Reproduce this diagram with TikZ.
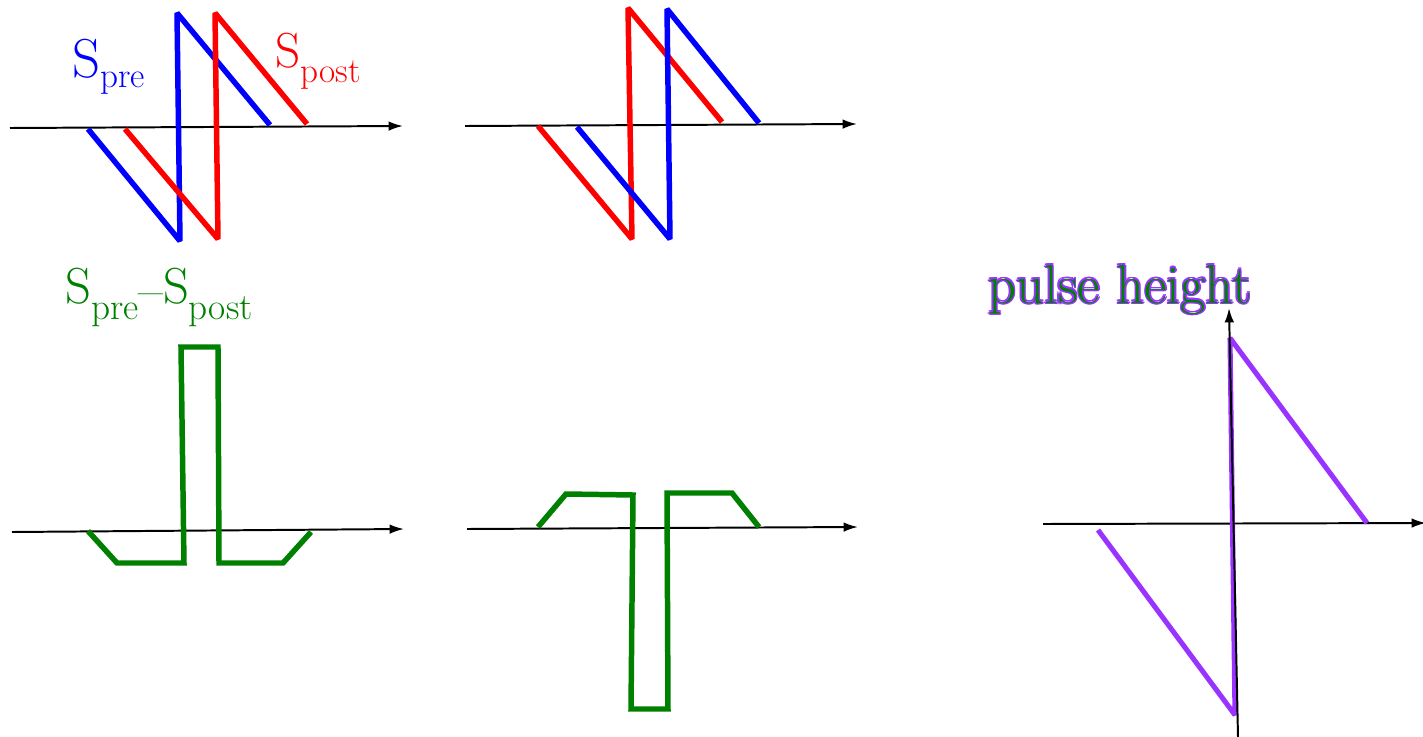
\documentclass[tikz,border=0pt]{standalone}
\usepackage{tikz}
\usetikzlibrary{arrows.meta}
\definecolor{PreBlue}{RGB}{0,0,255}
\definecolor{PostRed}{RGB}{255,0,0}
\definecolor{DiffGreen}{RGB}{0,128,0}
\definecolor{PulseViolet}{RGB}{153,51,255}
\newcommand{\sig}[4]{{\fontsize{#1}{#1}\selectfont S}\raisebox{-#3}{\fontsize{#2}{#2}\selectfont #4}}
\newcommand{\halotext}[1]{%
  \foreach \hx/\hy in {1.1/0,-1.1/0,0/1.1,0/-1.1,0.8/0.8,0.8/-0.8,-0.8/0.8,-0.8/-0.8}
    {\rlap{\hspace{\hx pt}\raisebox{\hy pt}{\textcolor{PulseViolet}{#1}}}}%
  \textcolor{DiffGreen}{#1}}

\begin{document}
\begin{tikzpicture}[x=0.025cm, y=-0.025cm, >={Latex[length=0.36cm,width=0.24cm]},
    axis/.style={->, line width=1.4pt},
    trace/.style={line width=3.9pt, line join=bevel},
    diff/.style={line width=3.9pt, DiffGreen, line join=miter},
    lab/.style={anchor=base west, inner sep=0pt}]
\useasboundingbox (0,0) rectangle (1423,737);
\draw[axis] (10,128) -- (403,126);
\draw[trace, PreBlue] (88,129) -- (180,241) -- (177,13) -- (270,125);
\draw[trace, PostRed] (125,129) -- (218,239) -- (215,13) -- (307,124);
\node[lab, PreBlue] (prelab) at (72,77) {\sig{39pt}{25pt}{7.8pt}{pre}};
\node[lab, PostRed] (postlab) at (275,67) {\sig{35pt}{25pt}{11.3pt}{post}};
\draw[axis] (465,126) -- (857,124);
\draw[trace, PostRed] (538,126) -- (632,239) -- (628,8) -- (722,122);
\draw[trace, PreBlue] (577,127) -- (670,239) -- (667,9) -- (759,123);
\draw[axis] (12,532) -- (404,529);
\draw[diff] (88,531) -- (117,563) -- (184,563) -- (181,347) -- (218,347) -- (219,563) -- (283,563) -- (311,532);
\node[lab, DiffGreen] (difflab) at (65,303)
    {\sig{36pt}{26.5pt}{12pt}{pre}{\fontsize{38pt}{38pt}\selectfont\raisebox{-4pt}{--}}\sig{36pt}{26.5pt}{12pt}{post}};
\draw[axis] (467,529) -- (858,527);
\draw[diff] (538,527) -- (566,494) -- (633,495) -- (631,709) -- (668,709) -- (667,493) -- (732,493) -- (759,527);
\draw[axis] (1043,524) -- (1426,523);
\draw[line width=3.6pt, PulseViolet, line join=bevel] (1098,530) -- (1235,715) -- (1230,338) -- (1367,523);
\draw[axis] (1238,737) -- (1229,308);
\node[lab, font=\fontsize{39pt}{39pt}\selectfont] (pulselab) at (988,303) {\halotext{pulse height}};
\end{tikzpicture}
\end{document}
